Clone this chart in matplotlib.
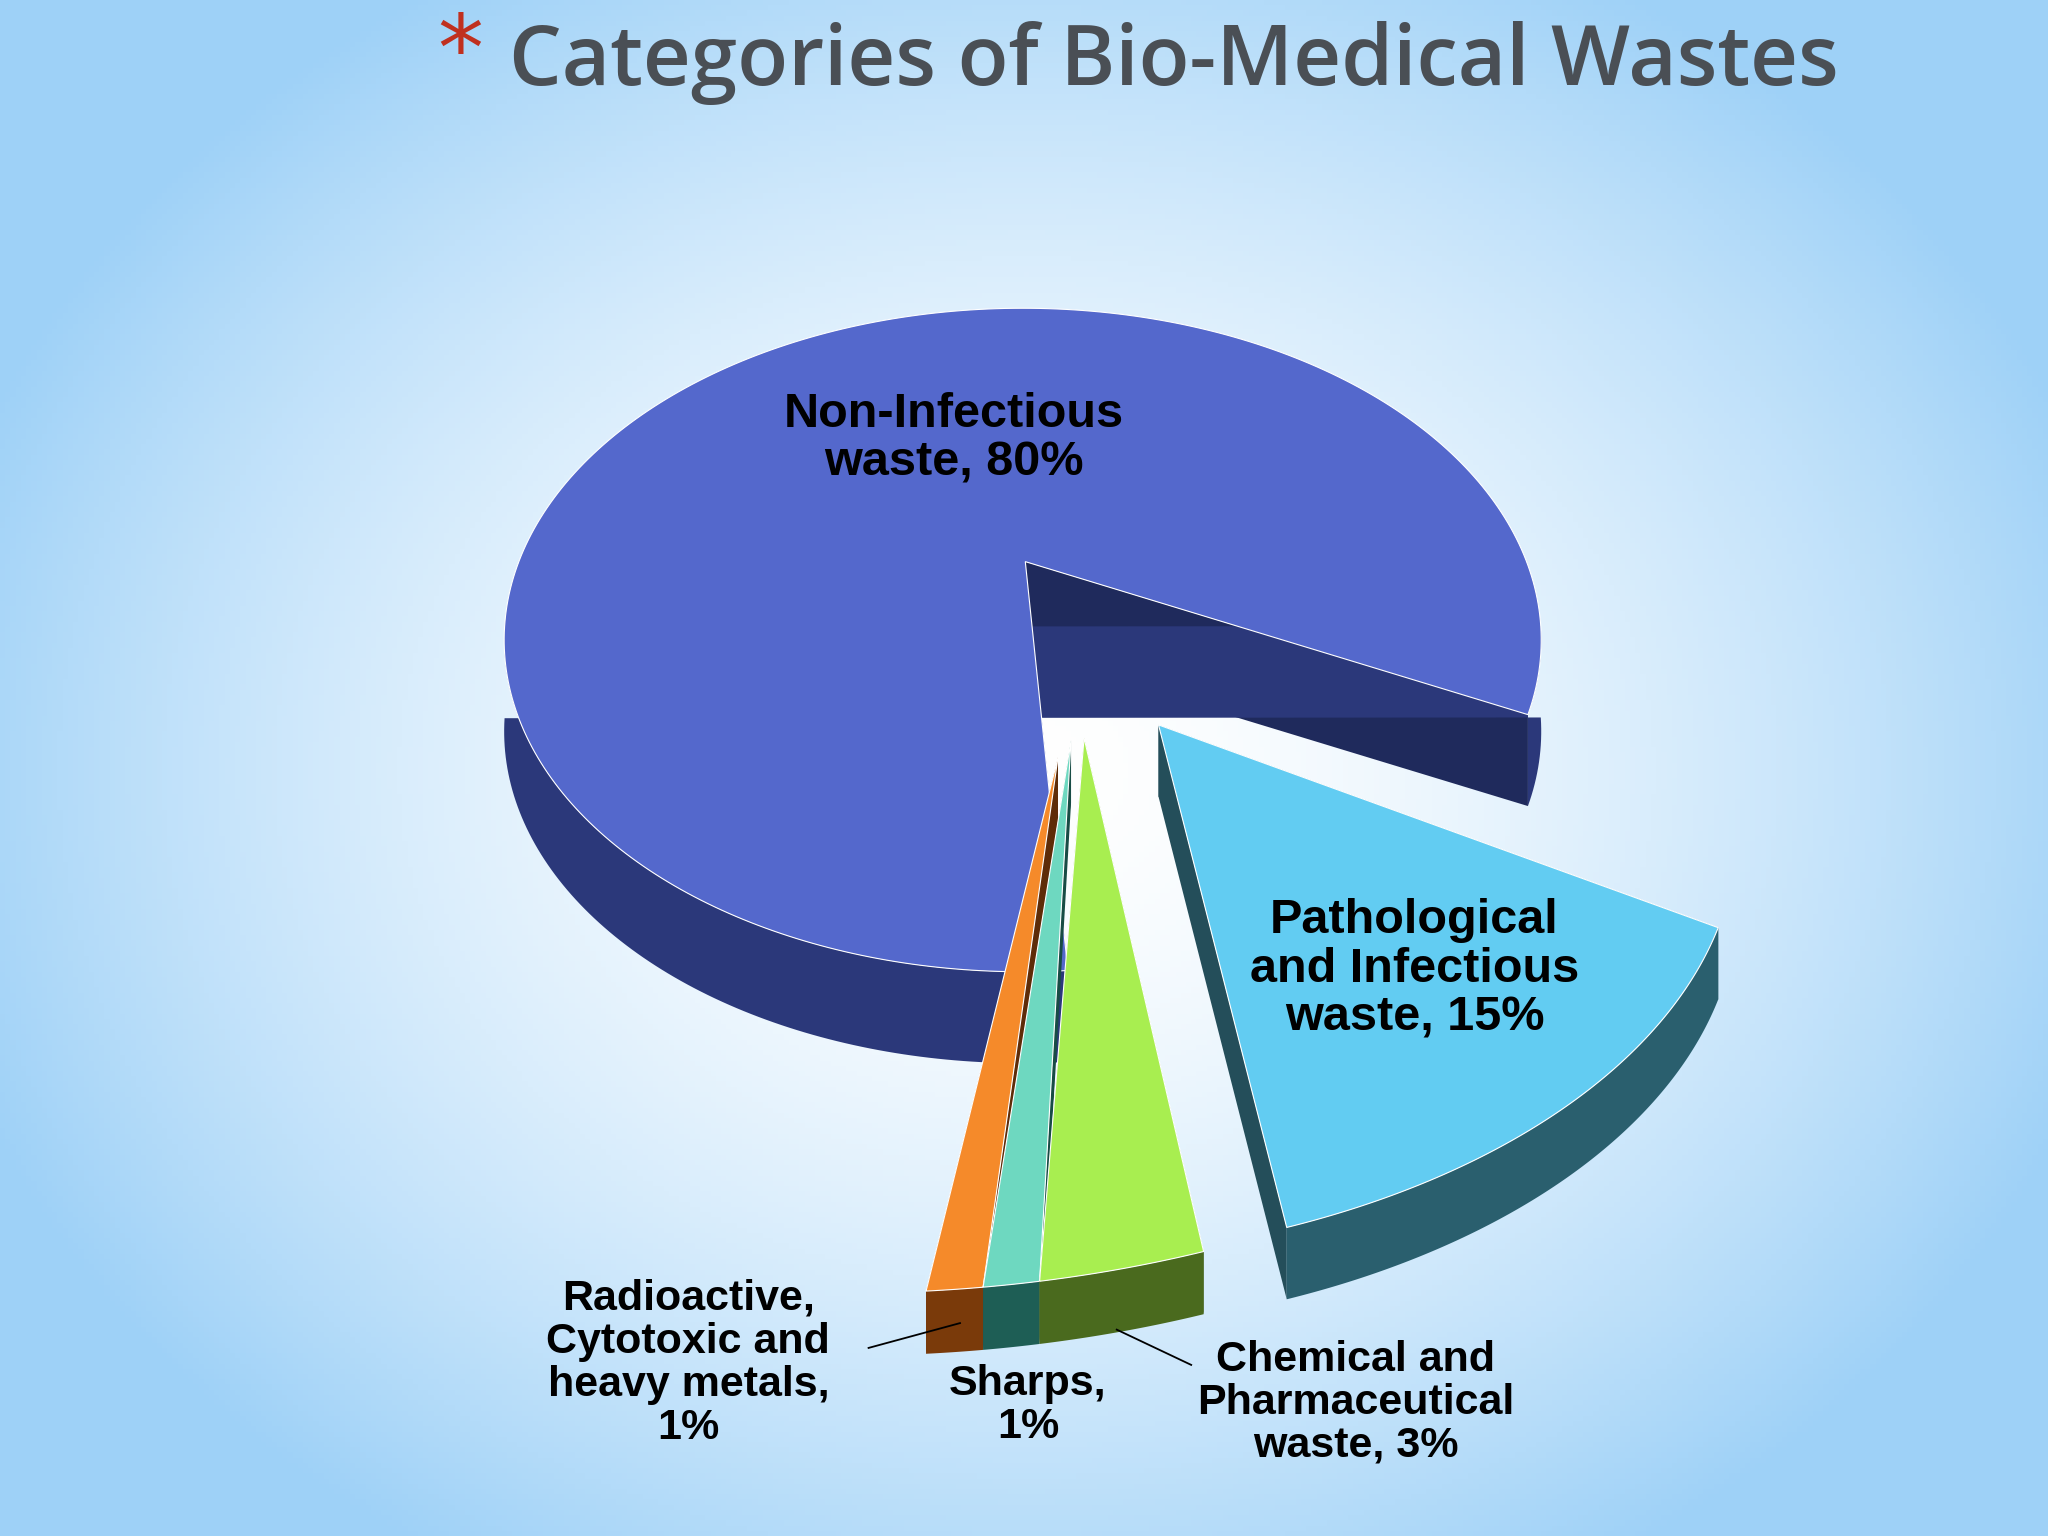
import numpy as np
import matplotlib
matplotlib.use("Agg")
import matplotlib.pyplot as plt
from matplotlib.patches import Polygon

categories = ["Non-Infectious\nwaste, 80%", "Pathological\nand Infectious\nwaste, 15%",
              "Chemical and\nPharmaceutical\nwaste, 3%", "Sharps,\n1%",
              "Radioactive,\nCytotoxic and\nheavy metals,\n1%"]
values = [80, 15, 3, 1, 1]

tops = ["#5468CC", "#62CCF2", "#A8EE50", "#6ED8C0", "#F58A2A"]
sides = ["#2B387A", "#2A5F6E", "#4A6A1E", "#1E5E55", "#7A3A0A"]
walls = ["#1F2A5C", "#244E5A", "#3E5A18", "#184C45", "#5E2C08"]

W, H = 1568, 1176
fig = plt.figure(figsize=(20.48, 15.36), dpi=100)
ax = fig.add_axes([0, 0, 1, 1])
ax.set_xlim(0, W); ax.set_ylim(H, 0); ax.axis("off")

yy, xx = np.mgrid[0:H:4, 0:W:4]
r = np.sqrt(((xx - W * 0.5) / (W * 0.55)) ** 2 + ((yy - H * 0.5) / (H * 0.6)) ** 2)
t = np.clip(r, 0, 1) ** 1.6
c0 = np.array([1, 1, 1]); c1 = np.array([0.62, 0.82, 0.97])
img = c0[None, None, :] * (1 - t[..., None]) + c1[None, None, :] * t[..., None]
ax.imshow(img, extent=[0, W, H, 0], zorder=0, aspect="auto")

start = -13.0
ang0 = [(start, start + values[0] * 3.6)]
a = start
for v in values[1:]:
    ang0.append((a - v * 3.6, a))
    a -= v * 3.6

# style geometry: vertex, ellipse centre, radii, depth per slice
verts = [(785, 430), (887, 555), (830, 565), (820, 567), (810, 580)]
ecent = [(783, 490), (764, 636), (648, 590), (648, 590), (648, 590)]
rx = [397, 566, 700, 700, 700]
ry = [254, 330, 400, 400, 400]
depth = [70, 55, 48, 48, 48]
order = [0, 1, 4, 3, 2]

def pt(i, th):
    e = ecent[i]
    return (e[0] + rx[i] * np.cos(np.radians(th)), e[1] - ry[i] * np.sin(np.radians(th)))

z = 2
for i in order:
    c = verts[i]; a1, a2 = ang0[i]; d = depth[i]
    th = np.linspace(a1, a2, 300)
    arc = np.array([pt(i, t_) for t_ in th])
    for e in (a1, a2):
        p = pt(i, e)
        wall = [c, p, (p[0], p[1] + d), (c[0], c[1] + d)]
        ax.add_patch(Polygon(wall, closed=True, fc=walls[i], ec="none", zorder=z))
    front = arc[np.sin(np.radians(th)) < 0.05]
    if len(front) > 1:
        side = np.vstack([front, front[::-1] + [0, d]])
        ax.add_patch(Polygon(side, closed=True, fc=sides[i], ec="none", zorder=z + 1))
    topp = np.vstack([[c], arc])
    ax.add_patch(Polygon(topp, closed=True, fc=tops[i], ec="#FFFFFF", lw=0.8, zorder=z + 2))
    z += 3

fk = dict(family=["Liberation Sans", "DejaVu Sans"], weight="bold", color="black",
          ha="center", va="center", zorder=50, linespacing=1.1)
ax.text(730, 336, categories[0], fontsize=35, **fk)
ax.text(1083, 742, categories[1], fontsize=35, **fk)
ax.text(1038, 1074, categories[2], fontsize=31, **fk)
ax.text(787, 1076, categories[3], fontsize=31, **fk)
ax.text(527, 1044, categories[4], fontsize=31, **fk)
ax.plot([665, 735], [1032, 1013], color="black", lw=1.3, zorder=49)
ax.plot([912, 855], [1045, 1018], color="black", lw=1.3, zorder=49)

ax.text(335, 42, "*", fontsize=66, color="#C0301F", ha="left", va="center", zorder=50)
ax.text(390, 48, "Categories of Bio-Medical Wastes", fontsize=60, color="#4A4F55",
        family=["Open Sans", "DejaVu Sans"], weight="semibold", ha="left", va="center", zorder=50)

fig.savefig("out.png", dpi=100)
